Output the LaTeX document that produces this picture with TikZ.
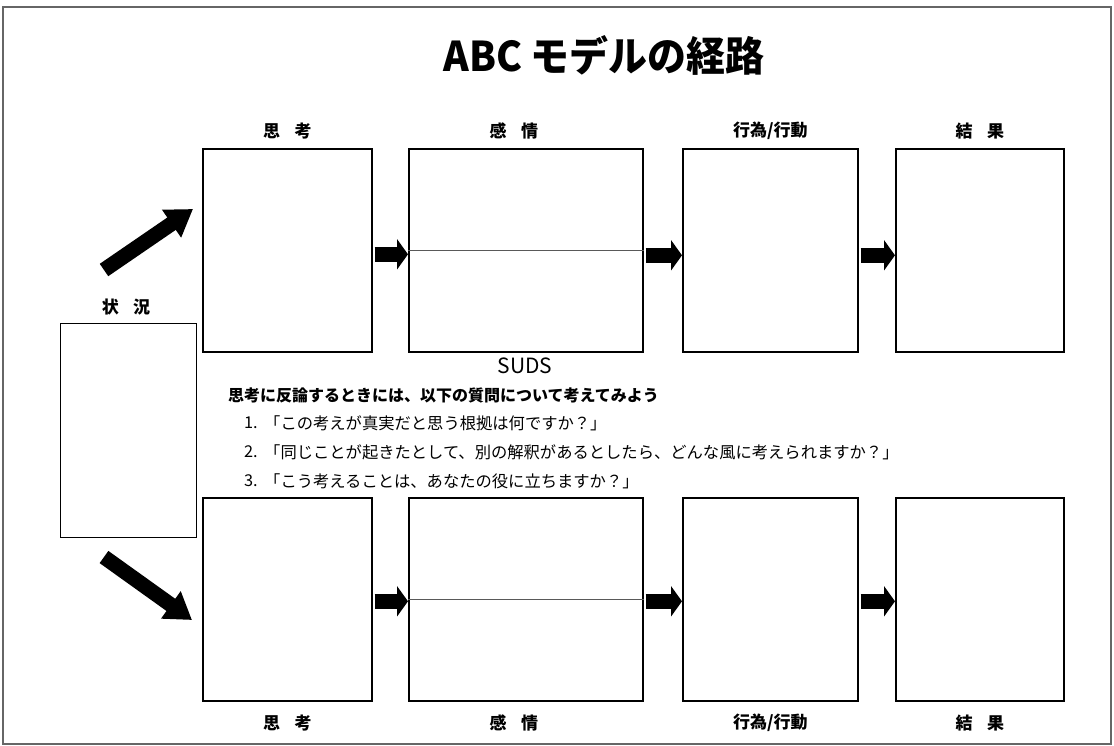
\documentclass[tikz,border=0pt]{standalone}
\usepackage{fontspec}
\setmainfont{Noto Sans CJK JP}
\newfontfamily\jp{Noto Sans CJK JP}
\usetikzlibrary{arrows.meta,positioning}
\tikzset{
  box/.style={draw=black, line width=1.6pt, rectangle, anchor=north west, inner sep=0pt},
  rowbox/.style={box, minimum height=203pt},
  lab/.style={font=\jp\bfseries\fontsize{17}{20}\selectfont},
  blockarrow/.style={line width=15pt, -{Triangle[length=11pt,width=30pt]}, shorten <=2pt},
  diagarrow/.style={line width=15pt, -{Triangle[length=26pt,width=32pt]}},
  qtext/.style={font=\jp\fontsize{16.3}{19}\selectfont, anchor=west, inner sep=0pt},
}
\begin{document}
\begin{tikzpicture}[x=1pt,y=-1pt]
\useasboundingbox (0,0) rectangle (1114,745);
\draw[gray!80!black, line width=1.2pt] (3,7) rectangle (1111,744);
% title
\node[font=\jp\bfseries\fontsize{41}{45}\selectfont, xscale=0.95] (title) at (604,55) {ABC モデルの経路};
% top row
\node[rowbox, minimum width=169pt] (t1) at (202,148) {};
\node[rowbox, minimum width=234pt] (t2) at (408,148) {};
\node[rowbox, minimum width=175pt] (t3) at (682,148) {};
\node[rowbox, minimum width=168pt] (t4) at (895,148) {};
\draw[gray!70!black, line width=0.9pt] (t2.west) -- (t2.east);
% bottom row
\node[rowbox, minimum width=169pt] (b1) at (202,497) {};
\node[rowbox, minimum width=234pt] (b2) at (408,497) {};
\node[rowbox, minimum width=175pt] (b3) at (682,497) {};
\node[rowbox, minimum width=168pt] (b4) at (895,497) {};
\draw[gray!70!black, line width=0.9pt] (b2.west) -- (b2.east);
% situation
\node[box, line width=1.4pt, minimum width=136pt, minimum height=214pt] (s) at (60,323) {};
\node[lab] (sl) at (126,307) {状\hspace{0.85em}況};
% labels
\node[lab] (lt1) at ([yshift=17pt]t1.north) {思\hspace{0.85em}考};
\node[lab] (lt2) at ([yshift=17pt,xshift=-12pt]t2.north) {感\hspace{0.85em}情};
\node[lab] (lt3) at ([yshift=17pt]t3.north) {行為/行動};
\node[lab] (lt4) at ([yshift=17pt]t4.north) {結\hspace{0.85em}果};
\node[lab] (lb1) at ([yshift=-21pt]b1.south) {思\hspace{0.85em}考};
\node[lab] (lb2) at ([yshift=-21pt,xshift=-12pt]b2.south) {感\hspace{0.85em}情};
\node[lab] (lb3) at ([yshift=-21pt]b3.south) {行為/行動};
\node[lab] (lb4) at ([yshift=-21pt]b4.south) {結\hspace{0.85em}果};
% horizontal block arrows
\draw[blockarrow] ([yshift=-4pt]t1.east) -- ([yshift=-4pt]t2.west);
\draw[blockarrow] ([yshift=-5pt]t2.east) -- ([yshift=-5pt]t3.west);
\draw[blockarrow] ([yshift=-5pt]t3.east) -- ([yshift=-5pt]t4.west);
\draw[blockarrow] ([yshift=-2pt]b1.east) -- ([yshift=-2pt]b2.west);
\draw[blockarrow] ([yshift=-2pt]b2.east) -- ([yshift=-2pt]b3.west);
\draw[blockarrow] ([yshift=-2pt]b3.east) -- ([yshift=-2pt]b4.west);
% diagonal arrows
\coordinate (d1s) at (104,270);
\coordinate (d1e) at (193,209);
\coordinate (d2s) at (104,557);
\coordinate (d2e) at (192,620);
\draw[diagarrow] (d1s) -- (d1e);
\draw[diagarrow] (d2s) -- (d2e);
% text
\node[font=\jp\fontsize{21}{24}\selectfont] (suds) at (525,366) {SUDS};
\node[qtext, font=\jp\bfseries\fontsize{16}{19}\selectfont] (q0) at (228,395) {思考に反論するときには、以下の質問について考えてみよう};
\node[qtext] (n1) at (244,423) {1.};
\node[qtext] (q1) at (264,423) {「この考えが真実だと思う根拠は何ですか？」};
\node[qtext] (n2) at (244,452) {2.};
\node[qtext] (q2) at (264,452) {「同じことが起きたとして、別の解釈があるとしたら、どんな風に考えられますか？」};
\node[qtext] (n3) at (244,481) {3.};
\node[qtext] (q3) at (264,481) {「こう考えることは、あなたの役に立ちますか？」};
\end{tikzpicture}
\end{document}
